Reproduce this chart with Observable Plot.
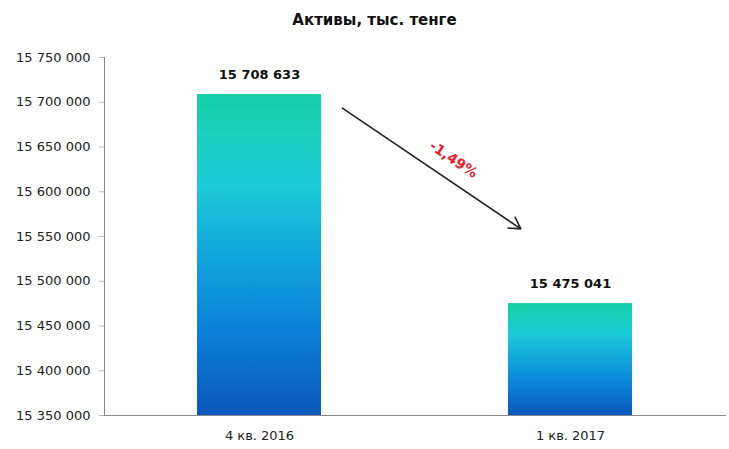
<!DOCTYPE html>
<html><head><meta charset="utf-8">
<script src="https://cdn.jsdelivr.net/npm/d3@7"></script>
<script src="https://cdn.jsdelivr.net/npm/@observablehq/plot@0.6"></script>
<style>
body{margin:0;background:#fff;font-family:"DejaVu Sans",sans-serif;}
#title{height:40px;line-height:40px;text-align:center;padding-left:20px;font-weight:bold;font-size:15px;color:#111;}
</style></head><body>
<div id="title">Активы, тыс. тенге</div>
<div id="chart"></div>
<script>
const categories = ["4 кв. 2016", "1 кв. 2017"];
const values = [15708633, 15475041];
const yTicks = [15350000, 15400000, 15450000, 15500000, 15550000, 15600000, 15650000, 15700000, 15750000];
const arrowFromValue = 15756000;
const arrowToValue = 15521000;
const changeLabelValue = 15636000;

const data = categories.map((c, i) => ({cat: c, value: values[i]}));
const fmt = v => d3.format(",")(v).replace(/,/g, " ");
const change = ((values[1] / values[0] - 1) * 100).toFixed(2).replace(".", ",") + "%";

const defs = () => {
  const d = d3.create("svg:defs");
  const g = d.append("linearGradient").attr("id", "barGrad").attr("x1", 0).attr("y1", 0).attr("x2", 0).attr("y2", 1);
  [[0, "#14cfa6"], [0.12, "#18d0bc"], [0.28, "#1ccbd8"], [0.5, "#12a6dc"], [0.75, "#0a7ed8"], [1, "#0b56bc"]]
    .forEach(([o, c]) => g.append("stop").attr("offset", o).attr("stop-color", c));
  return d.node();
};

const chart = Plot.plot({
  width: 729,
  height: 409,
  marginTop: 17,
  marginBottom: 34,
  marginLeft: 104,
  marginRight: 3,
  style: {fontFamily: "DejaVu Sans, sans-serif", fontSize: "13px", color: "#222", background: "#fff"},
  x: {domain: categories, paddingInner: 0.6, paddingOuter: 0.3, label: null},
  y: {domain: [15350000, 15750000], label: null},
  marks: [
    defs,
    Plot.barY(data, {x: "cat", y1: 15350000, y2: "value", fill: "url(#barGrad)"}),
    Plot.axisY({ticks: yTicks, tickFormat: fmt, tickSize: 5, tickPadding: 9, stroke: "#bbb", fontSize: 13, fill: "#222"}),
    Plot.frame({anchor: "left", stroke: "#888"}),
    Plot.ruleY([15350000], {stroke: "#888"}),
    Plot.axisX({tickSize: 0, tickPadding: 15, fontSize: 13, fill: "#222"}),
    Plot.text(data, {x: "cat", y: "value", text: d => fmt(d.value), dy: -20, fontWeight: "bold", fontSize: 13, fill: "#111"}),
    Plot.arrow([{}], {x1: () => categories[0], y1: () => arrowFromValue, x2: () => categories[1], y2: () => arrowToValue,
      insetStart: 100, insetEnd: 60, headLength: 12, stroke: "#222", strokeWidth: 1.6}),
    Plot.text([change], {x: () => categories[1], y: () => changeLabelValue, text: d => d, dx: -117, rotate: 34,
      fill: "#e8202a", fontWeight: "bold", fontSize: 14})
  ]
});
document.getElementById("chart").appendChild(chart);
</script></body></html>
